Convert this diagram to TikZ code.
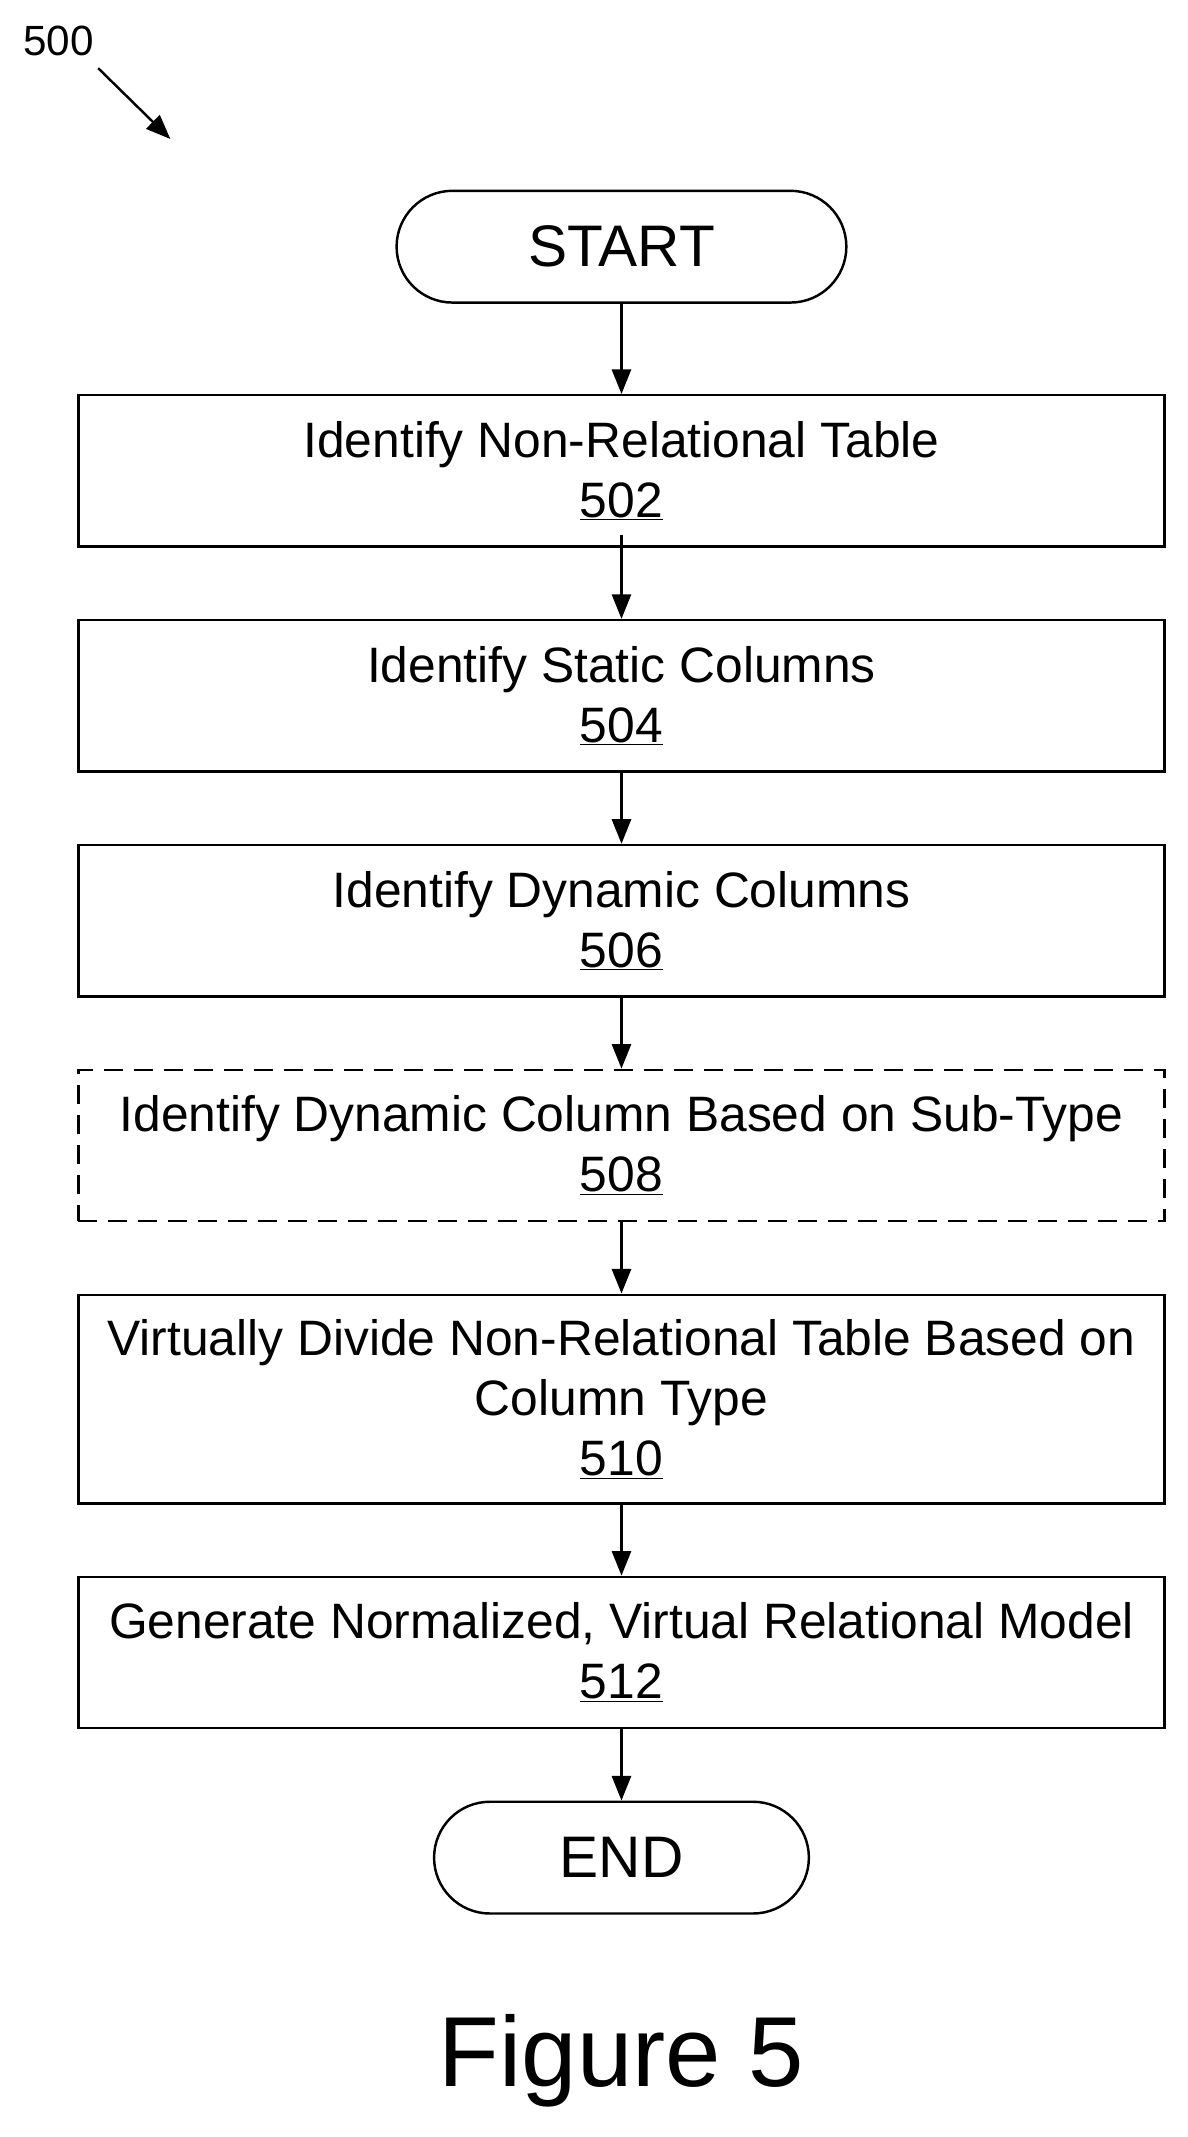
\documentclass[tikz,border=0pt]{standalone}
\usepackage{fontspec}
\setmainfont{Liberation Sans}
\usetikzlibrary{arrows.meta}
\begin{document}
\begin{tikzpicture}[x=1pt,y=-1pt,
  box/.style={draw,line width=1.8pt,minimum width=797pt,minimum height=111pt,align=center,inner sep=0pt,font=\fontsize{36.5}{44}\selectfont},
  term/.style={draw,line width=1.8pt,rounded corners=41pt,minimum height=82pt,font=\fontsize{43}{48}\selectfont},
  arr/.style={line width=1.8pt,-{Triangle[length=18pt,width=14pt]}}]
\useasboundingbox (0,0) rectangle (871,1568);
\node[font=\fontsize{31}{36}\selectfont] (n500) at (43,30) {500};
\coordinate (a1) at (72,50); \coordinate (a2) at (125,102);
\draw[arr] (a1) -- (a2);
\node[term,minimum width=330pt] (start) at (456,181) {START};
\node[box] (b502) at (456,345.5) {Identify Non-Relational Table\\\underline{502}};
\node[box] (b504) at (456,510.5) {Identify Static Columns\\\underline{504}};
\node[box] (b506) at (456,675.5) {Identify Dynamic Columns\\\underline{506}};
\node[box,dash pattern=on 14pt off 8pt] (b508) at (456,840.5) {Identify Dynamic Column Based on Sub-Type\\\underline{508}};
\node[box,minimum height=153pt] (b510) at (456,1026.5) {Virtually Divide Non-Relational Table Based on\\Column Type\\\underline{510}};
\node[box] (b512) at (456,1212.5) {Generate Normalized, Virtual Relational Model\\\underline{512}};
\node[term,minimum width=275pt] (end) at (456,1363) {END};
\node[font=\fontsize{73}{80}\selectfont] (fig) at (456,1512) {Figure 5};
\draw[arr] (start) -- (b502);
\draw[arr] ([yshift=9pt]b502.south) -- (b504);
\draw[arr] (b504) -- (b506);
\draw[arr] (b506) -- (b508);
\draw[arr] (b508) -- (b510);
\draw[arr] (b510) -- (b512);
\draw[arr] (b512) -- (end);
\end{tikzpicture}
\end{document}
